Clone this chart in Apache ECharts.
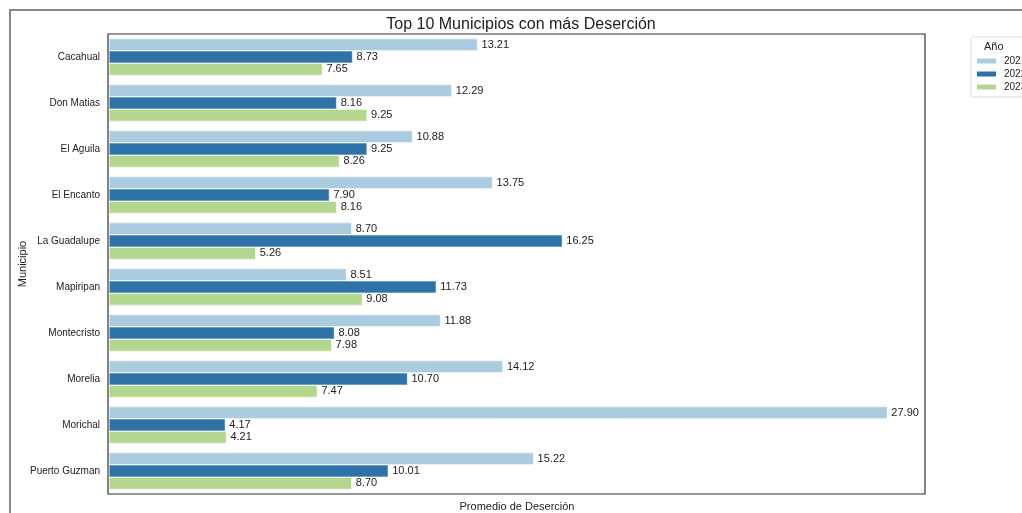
<!DOCTYPE html>
<html>
<head>
<meta charset="utf-8">
<script src="https://cdn.jsdelivr.net/npm/echarts@6/dist/echarts.min.js"></script>
<style>
  body { margin: 0; background: #fff; }
  #main { width: 1022px; height: 513px; }
</style>
</head>
<body>
<div id="main"></div>
<script>
const municipios = ["Cacahual", "Don Matias", "El Aguila", "El Encanto", "La Guadalupe",
  "Mapiripan", "Montecristo", "Morelia", "Morichal", "Puerto Guzman"];
const years = ["2021", "2022", "2023"];
const val2021 = [13.21, 12.29, 10.88, 13.75, 8.70, 8.51, 11.88, 14.12, 27.90, 15.22];
const val2022 = [8.73, 8.16, 9.25, 7.90, 16.25, 11.73, 8.08, 10.70, 4.17, 10.01];
const val2023 = [7.65, 9.25, 8.26, 8.16, 5.26, 9.08, 7.98, 7.47, 4.21, 8.70];
const colors = ["#abcce0", "#2e73a7", "#b4d78f"];

const font = "Liberation Sans, Arial, sans-serif";
const chart = echarts.init(document.getElementById("main"));

// plot frame position
const gLeft = 108, gTop = 34, gRight = 97, gBottom = 19;

function makeSeries(name, data, color) {
  return {
    name: name,
    type: "bar",
    data: data,
    barCategoryGap: "20%",
    barGap: "0%",
    itemStyle: { color: color, borderColor: "#fff", borderWidth: 0.5 },
    label: {
      show: true,
      position: "right",
      distance: 4,
      color: "#222",
      fontSize: 11,
      fontFamily: font,
      formatter: p => p.value.toFixed(2)
    }
  };
}

chart.setOption({
  animation: false,
  textStyle: { fontFamily: font },
  title: {
    text: "Top 10 Municipios con más Deserción",
    left: 516,
    textAlign: "center",
    top: 12,
    textStyle: { fontSize: 16, fontWeight: "normal", color: "#222", fontFamily: font }
  },
  legend: {
    data: years,
    orient: "vertical",
    left: 975,
    top: 56,
    padding: 0,
    itemWidth: 21,
    itemHeight: 7,
    itemGap: 3,
    icon: "rect",
    textStyle: { fontSize: 10, color: "#222", fontFamily: font, padding: [0, 0, 0, 2] }
  },
  graphic: [
    {
      type: "rect",
      shape: { x: 10, y: 10, width: 1100, height: 600 },
      style: { fill: "none", stroke: "#888", lineWidth: 2 },
      silent: true
    },
    {
      type: "rect",
      shape: { x: gLeft, y: gTop, width: 1022 - gLeft - gRight, height: 513 - gTop - gBottom },
      style: { fill: "none", stroke: "#333", lineWidth: 1.2 },
      z: 100,
      silent: true
    },
    {
      type: "rect",
      shape: { x: 971, y: 37, width: 80, height: 60, r: 2 },
      style: { fill: "#fff", stroke: "#ddd", lineWidth: 1 },
      z: -1,
      silent: true
    },
    {
      type: "text",
      left: 984,
      top: 41,
      style: { text: "Año", fontSize: 11, fill: "#222", fontFamily: font }
    }
  ],
  grid: { left: gLeft + 1, top: gTop, right: gRight, bottom: gBottom, outerBoundsMode: "none" },
  xAxis: {
    type: "value",
    min: 0,
    max: 29.25,
    axisLabel: { show: false },
    axisTick: { show: false },
    axisLine: { show: false },
    splitLine: { show: false },
    name: "Promedio de Deserción",
    nameLocation: "middle",
    nameGap: 7,
    nameTextStyle: { fontSize: 11, color: "#222", fontFamily: font }
  },
  yAxis: {
    type: "category",
    data: municipios,
    inverse: true,
    axisTick: { show: false },
    axisLine: { show: false },
    splitLine: { show: false },
    axisLabel: { fontSize: 10, color: "#222", margin: 9, fontFamily: font },
    name: "Municipio",
    nameLocation: "middle",
    nameRotate: 90,
    nameGap: 81,
    nameMoveOverlap: false,
    nameTextStyle: { fontSize: 11, color: "#222", fontFamily: font }
  },
  series: [
    makeSeries(years[0], val2021, colors[0]),
    makeSeries(years[1], val2022, colors[1]),
    makeSeries(years[2], val2023, colors[2])
  ]
});
</script>
</body>
</html>
